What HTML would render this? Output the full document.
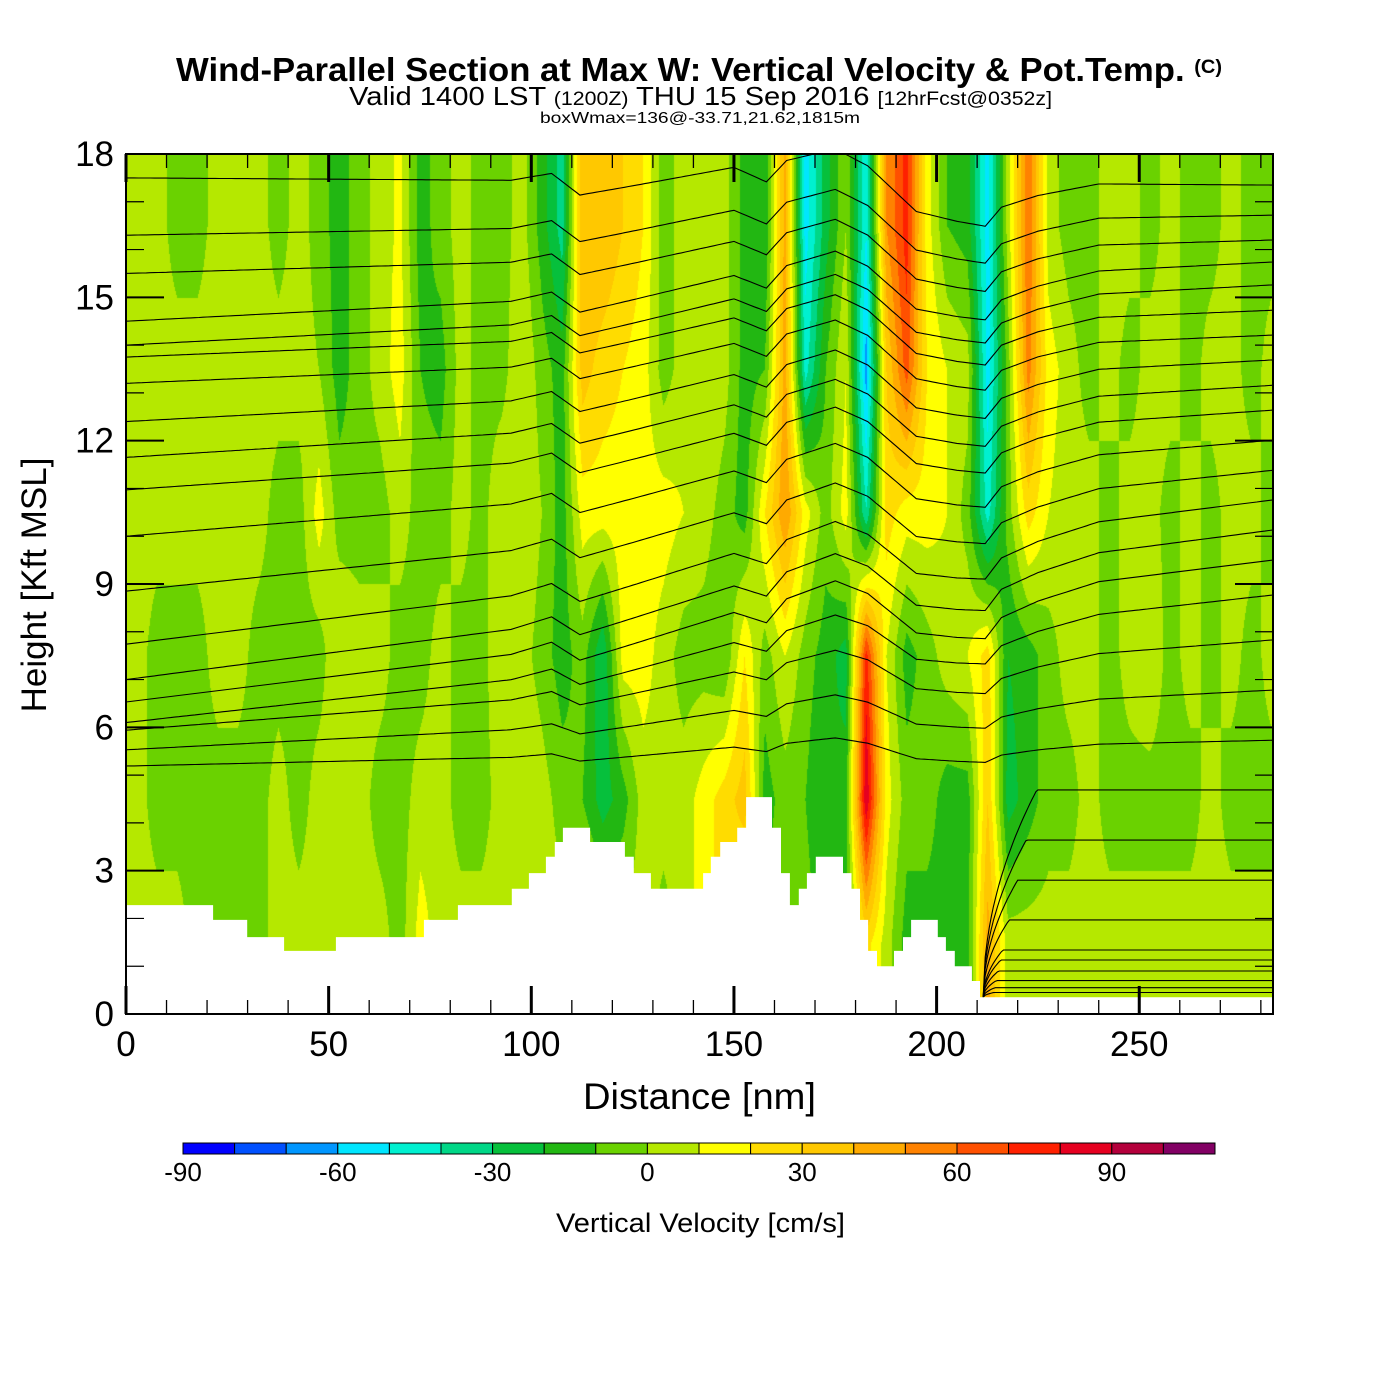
<!DOCTYPE html>
<html><head><meta charset="utf-8">
<style>
html,body{margin:0;padding:0;background:#fff;}
#wrap{position:relative;width:1400px;height:1400px;overflow:hidden;font-family:"Liberation Sans",sans-serif;}
#field{position:absolute;left:126px;top:154px;}
#ov{position:absolute;left:0;top:0;}
</style></head><body>
<div id="wrap">
<canvas id="field" width="1147" height="860"></canvas>
<svg id="ov" width="1400" height="1400"><defs><clipPath id="plotclip"><rect x="126" y="154" width="1147" height="860"/></clipPath></defs></svg>
</div>
<script>
// ---- data ----
const colCenters = []; for (let i = 0; i < 57; i++) colCenters.push(5 * i + 2.5);
const rowHeights = [1.5, 4.5, 7.5, 10.5, 13.5, 16.5];
const wRow1_5 = [5,5,5,-5,-5,-5,-5,5,5,5, 5,5,5,-5,15,5,5,5,5,5, 5,5,15,5,5,5,-5,5,15,25, 10,-5,-5,-5,-15,-15,25,5,-15,-15, -15,-15,45,5,5,5,5,5,5,5, 5,5,5,5,5,5,5];
const wRow4_5 = [5,-5,-5,-5,-5,-5,-5,5,-5,5, 5,5,-5,-5,5,5,-5,-5,5,10, 5,-5,-10,-25,-15,5,5,5,15,25, 35,-15,-5,-10,-20,-15,90,15,-5,-5, -15,-15,30,-25,-15,-5,-5,5,-5,-5, -5,-5,-5,5,-5,-5,-5];
const wRow7_5 = [5,-5,-5,-5,5,5,-5,-5,-5,-5, 10,5,5,-5,-5,5,-5,-5,10,5, -5,-15,-5,-30,15,15,5,-5,-5,-10, 20,-5,10,-5,-15,-25,75,10,-15,-5, 5,10,25,-20,-15,-5,5,5,-5,5, 10,-5,5,-5,5,-5,5];
const wRow10_5 = [5,5,5,5,5,5,5,-5,-5,15, -5,-5,-5,5,-5,-5,5,-5,10,10, 0,-15,15,15,15,15,15,10,5,-5, -15,20,50,15,-5,15,-40,25,15,15, 10,-5,-45,-5,25,10,5,5,-5,5, 5,-5,5,-5,5,5,-5];
const wRow13_5 = [5,5,5,5,5,5,5,5,5,0, -15,-5,5,15,-10,-15,5,-5,-5,10, -5,-15,35,25,20,15,-5,5,10,5, -15,-10,45,-45,-10,10,-65,30,65,20, 10,5,-55,-5,55,15,5,-5,5,-5, 5,5,-5,5,5,-5,5];
const wRow16_5 = [5,5,-5,-5,5,5,5,-5,5,-5, -15,-5,5,12,-15,-5,5,-5,-5,5, -15,-35,40,40,30,20,-5,5,10,5, -15,-20,45,-55,-25,0,-50,50,75,15, -10,-15,-55,5,60,5,-5,-5,5,5, -5,5,-5,-5,5,-5,-5];
const colorLevels = ["#0000ff","#0050ff","#0096ff","#00e6ff","#00f0d0","#00d787","#06c03c","#22b712","#6ad200","#b5e800","#ffff00","#ffdc00","#ffc800","#ffaa00","#ff8200","#ff5000","#ff2000","#e60020","#b4003c","#820064"];
const cbarLabels = ["-90","-60","-30","0","30","60","90"];
const cbarValues = [-90,-60,-30,0,30,60,90];
const terrainEdges = [0,21.5,29.9,39,51.8,73.5,81.9,95.2,99.4,103.6,105.8,107.8,114.5,123.1,125.3,129.5,142.4,144.3,146.6,150.8,153,159.4,161.6,163.8,166,168,170.2,176.9,179,181.1,183.1,185.3,189.5,191.7,193.7,200.3,202.3,204.5,208.7,210.7,212.2,283];
const terrainKft = [2.28,1.97,1.61,1.32,1.61,1.97,2.28,2.62,2.95,3.29,3.6,3.9,3.6,3.29,2.95,2.62,2.95,3.29,3.6,3.9,4.54,3.9,2.95,2.28,2.62,2.95,3.29,2.95,2.62,1.97,1.32,1.0,1.32,1.61,1.97,1.61,1.32,1.0,0.69,0.35,0.35];
const thetaLeft = [17.5,16.3,15.5,14.5,14.0,13.75,13.2,12.4,11.65,10.97,10.0,8.85,7.74,7.0,6.53,6.1,5.94,5.53,5.19];
const thetaRight = [17.35,16.72,16.2,15.74,15.26,14.73,14.21,13.69,13.16,12.64,12.01,11.38,10.76,10.13,9.5,8.77,7.83,6.78,5.73];
const lowRight = [4.69,3.64,2.8,1.97,1.34,1.13,0.9,0.7,0.55,0.45];
const pertNm = [0,60,95,105,112,125,150,158,163,175,183,195,205,212,216,225,240,283];
const pertKft = [0,0,0,0.15,-0.3,-0.1,0.3,0,0.45,0.7,0.35,-0.6,-0.8,-0.9,-0.5,-0.25,0,0];
const xTicks = [0,50,100,150,200,250];
const yTicks = [0,3,6,9,12,15,18];

// ---- axes ----
const PL = 126, PT = 154, PW = 1147, PH = 860, XMAX = 283, YMAX = 18;
const X = nm => PL + nm * PW / XMAX;
const Y = k => PT + PH - k * PH / YMAX;
const rows = [wRow1_5, wRow4_5, wRow7_5, wRow10_5, wRow13_5, wRow16_5];

function hex(c){return [parseInt(c.substr(1,2),16),parseInt(c.substr(3,2),16),parseInt(c.substr(5,2),16)];}
const rgb = colorLevels.map(hex);
function levelIndex(v){let i=Math.floor((v+90)/10);return Math.max(0,Math.min(19,i));}
function fieldAt(nm,k){
  let fc=(nm-colCenters[0])/5; fc=Math.max(0,Math.min(colCenters.length-1-1e-6,fc));
  const c0=Math.floor(fc), tc=fc-c0;
  let fr=(k-rowHeights[0])/3; fr=Math.max(0,Math.min(rowHeights.length-1-1e-6,fr));
  const r0=Math.floor(fr), tr=fr-r0;
  const a=rows[r0][c0]*(1-tc)+rows[r0][c0+1]*tc;
  const b=rows[r0+1][c0]*(1-tc)+rows[r0+1][c0+1]*tc;
  return a*(1-tr)+b*tr;
}
(function(){
  const cv=document.getElementById('field'), ctx=cv.getContext('2d');
  const img=ctx.createImageData(PW,PH), d=img.data;
  for(let py=0;py<PH;py++){
    const k=(PH-py)*YMAX/PH;
    for(let px=0;px<PW;px++){
      const nm=px*XMAX/PW;
      const c=rgb[levelIndex(fieldAt(nm,k))];
      const o=(py*PW+px)*4; d[o]=c[0];d[o+1]=c[1];d[o+2]=c[2];d[o+3]=255;
    }
  }
  ctx.putImageData(img,0,0);
})();

const NS="http://www.w3.org/2000/svg";
const svg=document.getElementById('ov');
function mk(tag,attrs,parent){const e=document.createElementNS(NS,tag);for(const a in attrs)e.setAttribute(a,attrs[a]);(parent||svg).appendChild(e);return e;}
function interp(xs,ys,x){if(x<=xs[0])return ys[0];for(let i=1;i<xs.length;i++){if(x<=xs[i]){const t=(x-xs[i-1])/(xs[i]-xs[i-1]);return ys[i-1]+t*(ys[i]-ys[i-1]);}}return ys[ys.length-1];}

const gC=mk('g',{fill:'none',stroke:'#000','stroke-width':'1.1','clip-path':'url(#plotclip)'});


for(let j=0;j<thetaLeft.length;j++){
  const base=(thetaLeft[j]+thetaRight[j])/2;
  const sc=Math.max(0,Math.min(1,(base-4)/4));
  let pts=[];
  for(let nm=0;nm<=XMAX;nm+=1){
    const h=thetaLeft[j]+(thetaRight[j]-thetaLeft[j])*nm/XMAX+interp(pertNm,pertKft,nm)*sc;
    pts.push(X(nm).toFixed(1)+','+Y(h).toFixed(1));
  }
  const pl=mk('polyline',{points:pts.join(' ')},gC);
  
  
}
for(let j=0;j<lowRight.length;j++){
  const hR=lowRight[j];
  let pts=[];
  for(let nm=211.5;nm<=XMAX;nm+=0.5){
    const t=Math.max(0,Math.min(1,(nm-211.5)/(hR*2.5+1.5)));
    const h=0.35+(hR-0.35)*Math.sqrt(t);
    pts.push(X(nm).toFixed(1)+','+Y(h).toFixed(1));
  }
  const pl=mk('polyline',{points:pts.join(' ')},gC);
  
  
}

let tp='M'+X(0)+','+Y(0);
for(let i=0;i<terrainKft.length;i++){tp+=' L'+X(terrainEdges[i]).toFixed(1)+','+Y(terrainKft[i]).toFixed(1)+' L'+X(terrainEdges[i+1]).toFixed(1)+','+Y(terrainKft[i]).toFixed(1);}
tp+=' L'+X(XMAX)+','+Y(0)+' Z';
const terr=mk('path',{d:tp,fill:'#fff',stroke:'none'});



const gA=mk('g',{stroke:'#000','stroke-width':'1.5',fill:'none'});


mk('rect',{x:PL,y:PT,width:PW,height:PH,'stroke-width':'2'},gA);
for(let nm=0;nm<=280;nm+=10){
  const major=nm%50===0, L=major?28:14, w=major?3:1.3;
  mk('line',{x1:X(nm),y1:PT+PH,x2:X(nm),y2:PT+PH-L,'stroke-width':w},gA);
  mk('line',{x1:X(nm),y1:PT,x2:X(nm),y2:PT+L,'stroke-width':w},gA);
}
for(let k=0;k<=18;k+=1){
  const major=k%3===0, L=major?38:18, w=major?2:1.2;
  mk('line',{x1:PL,y1:Y(k),x2:PL+L,y2:Y(k),'stroke-width':w},gA);
  mk('line',{x1:PL+PW,y1:Y(k),x2:PL+PW-L,y2:Y(k),'stroke-width':w},gA);
}
const gT=mk('g',{'font-family':'Liberation Sans, sans-serif',fill:'#000'});
for(const v of xTicks){const t=mk('text',{x:X(v),y:1056,'font-size':'35','text-anchor':'middle'},gT);t.textContent=v;}
for(const v of yTicks){const t=mk('text',{x:114,y:Y(v)+12,'font-size':'35','text-anchor':'end'},gT);t.textContent=v;}

const CB0=183, CB1=1215, CBW=(CB1-CB0)/colorLevels.length;
const gB=mk('g',{});


for(let i=0;i<colorLevels.length;i++){
  const r=mk('rect',{x:CB0+i*CBW,y:1143,width:CBW,height:11,fill:colorLevels[i],stroke:'#000','stroke-width':'1'},gB);
  
  
}
for(let i=0;i<cbarLabels.length;i++){
  const x=CB0+(cbarValues[i]+90)/10*CBW;
  const t=mk('text',{x:x,y:1181,'font-size':'26','text-anchor':'middle','font-family':'Liberation Sans, sans-serif'},gB);
  t.textContent=cbarLabels[i];
  
  
}
</script>
<svg width="1400" height="1400" style="position:absolute;left:0;top:0;pointer-events:none" font-family="Liberation Sans, sans-serif">
<text x="176" y="81" font-size="33" font-weight="bold" textLength="1046" lengthAdjust="spacingAndGlyphs">Wind-Parallel Section at Max W: Vertical Velocity &amp; Pot.Temp. <tspan font-size="19" dy="-8">(C)</tspan></text>
<text x="349" y="105" font-size="26" textLength="703" lengthAdjust="spacingAndGlyphs">Valid 1400 LST <tspan font-size="19">(1200Z)</tspan> THU 15 Sep 2016 <tspan font-size="19">[12hrFcst@0352z]</tspan></text>
<text x="540" y="123" font-size="16" textLength="320" lengthAdjust="spacingAndGlyphs">boxWmax=136@-33.71,21.62,1815m</text>
<text x="583" y="1109" font-size="37" textLength="233" lengthAdjust="spacingAndGlyphs">Distance [nm]</text>
<text transform="translate(46,585) rotate(-90)" font-size="35" text-anchor="middle">Height [Kft MSL]</text>
<text x="556" y="1232" font-size="27" textLength="289" lengthAdjust="spacingAndGlyphs">Vertical Velocity [cm/s]</text>
</svg>
</body></html>
